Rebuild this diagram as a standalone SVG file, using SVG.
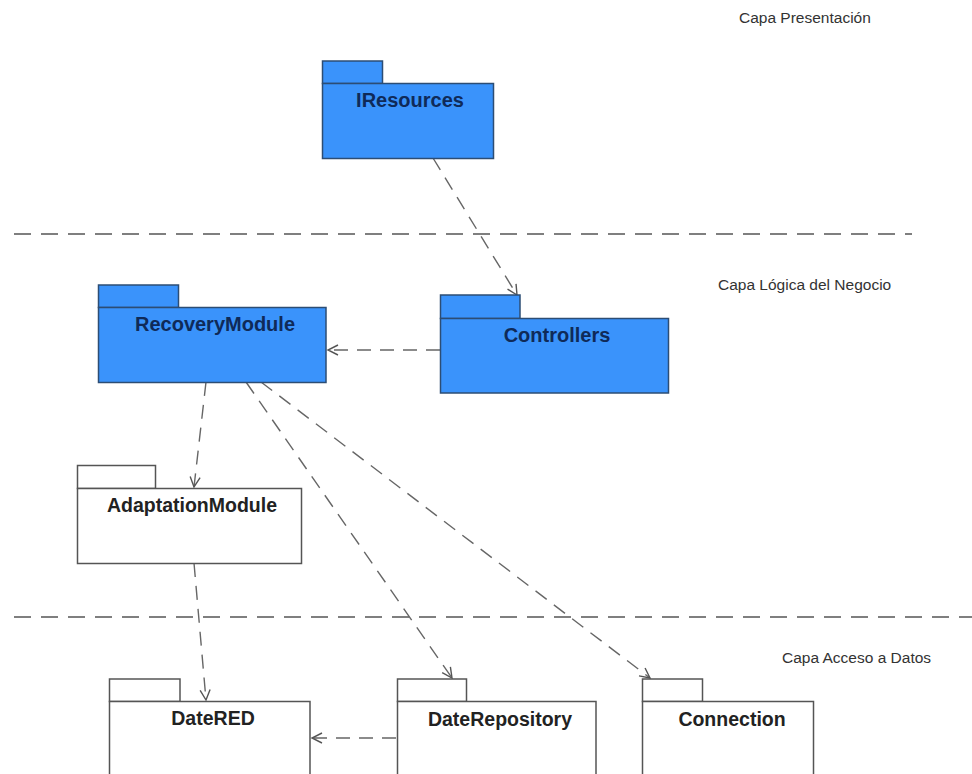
<svg xmlns="http://www.w3.org/2000/svg" width="972" height="774" viewBox="0 0 972 774">
  <defs>
    <marker id="open" markerUnits="userSpaceOnUse" markerWidth="12" markerHeight="12" refX="10" refY="5" orient="auto" overflow="visible">
      <path d="M0,0 L10,5 L0,10" fill="none" stroke="#555" stroke-width="1.4"/>
    </marker>
    <style>
      .blue rect { fill: #3A93FB; stroke: #2C4D74; stroke-width: 1.5; }
      .white rect { fill: #FFFFFF; stroke: #555555; stroke-width: 1.5; }
      .blue text { fill: #0F2A58; font-family: "Liberation Sans", Arial, sans-serif; font-weight: bold; font-size: 20px; text-anchor: middle; }
      .white text { fill: #222222; font-family: "Liberation Sans", Arial, sans-serif; font-weight: bold; font-size: 19.5px; text-anchor: middle; }
      .layer { fill: #333333; font-family: "Liberation Sans", Arial, sans-serif; font-size: 15.5px; }
      .sep { stroke: #555555; stroke-width: 1.5; stroke-dasharray: 17 10; fill: none; }
      .dep { stroke: #666666; stroke-width: 1.4; stroke-dasharray: 14 9; fill: none; marker-end: url(#open); }
    </style>
  </defs>
  <rect width="972" height="774" fill="#FFFFFF"/>

  <g id="layers">
    <line class="sep" x1="14" y1="234" x2="912" y2="234"/>
    <line class="sep" x1="14" y1="617" x2="972" y2="617"/>
    <text class="layer" x="739" y="23">Capa Presentación</text>
    <text class="layer" x="718" y="290">Capa Lógica del Negocio</text>
    <text class="layer" x="782" y="663">Capa Acceso a Datos</text>
  </g>

  <g id="connectors">
    <line class="dep" x1="433" y1="158" x2="517" y2="295"/>
    <line class="dep" x1="440" y1="350" x2="328" y2="350"/>
    <line class="dep" x1="206" y1="382" x2="194" y2="487"/>
    <line class="dep" x1="246" y1="382" x2="452" y2="678"/>
    <line class="dep" x1="261" y1="382" x2="650" y2="678"/>
    <line class="dep" x1="194" y1="563" x2="206" y2="700"/>
    <line class="dep" x1="396" y1="738" x2="312" y2="738"/>
  </g>

  <g id="IResources" class="blue">
    <rect x="322.5" y="61" width="60" height="22.5"/>
    <rect x="322.5" y="83.5" width="171" height="75"/>
    <text x="410" y="107">IResources</text>
  </g>

  <g id="RecoveryModule" class="blue">
    <rect x="98.5" y="285" width="80" height="22.5"/>
    <rect x="98.5" y="307.5" width="227.5" height="75"/>
    <text x="215" y="331">RecoveryModule</text>
  </g>

  <g id="Controllers" class="blue">
    <rect x="440.5" y="295" width="79.5" height="23.5"/>
    <rect x="440.5" y="318.5" width="228" height="74.5"/>
    <text x="557" y="342">Controllers</text>
  </g>

  <g id="AdaptationModule" class="white">
    <rect x="77.5" y="465.5" width="78" height="23"/>
    <rect x="77.5" y="488.5" width="224" height="75"/>
    <text x="192" y="512">AdaptationModule</text>
  </g>

  <g id="DateRED" class="white">
    <rect x="109.5" y="679" width="70.5" height="22.5"/>
    <rect x="109.5" y="701.5" width="200.5" height="80"/>
    <text x="213" y="725">DateRED</text>
  </g>

  <g id="DateRepository" class="white">
    <rect x="397.5" y="679" width="69" height="22.5"/>
    <rect x="397.5" y="701.5" width="198.5" height="80"/>
    <text x="500" y="726">DateRepository</text>
  </g>

  <g id="Connection" class="white">
    <rect x="642.5" y="679" width="60" height="22.5"/>
    <rect x="642.5" y="701.5" width="171" height="80"/>
    <text x="732" y="726">Connection</text>
  </g>
</svg>
